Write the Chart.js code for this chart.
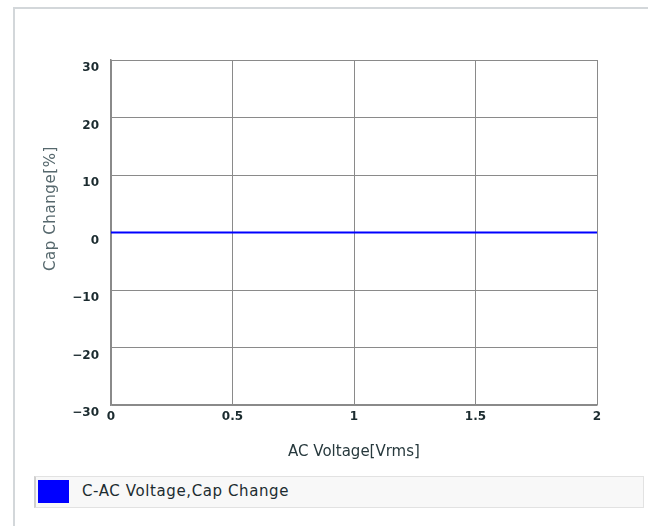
<!DOCTYPE html>
<html>
<head>
<meta charset="utf-8">
<script src="https://cdn.jsdelivr.net/npm/chart.js@4.4.0/dist/chart.umd.min.js"></script>
<style>
  html, body { margin: 0; padding: 0; background: #fff; }
  #wrap { position: relative; width: 648px; height: 526px; overflow: hidden; }
  #frame {
    position: absolute; left: 13px; top: 7px; right: -10px; bottom: -10px;
    border-top: 2px solid #d3d7da; border-left: 2px solid #d3d7da;
  }
  #grafico { position: absolute; left: 0; top: 0; }
  #legenda {
    position: absolute; left: 34px; top: 476px; width: 607px; height: 30px;
    background: #f8f8f8; border: 1px solid #e2e2e2; border-left: 2px solid #cfcfcf;
    font-family: "DejaVu Sans", sans-serif; font-size: 15px; letter-spacing: 0.6px; color: #1c2c30;
  }
  #legenda .cor { position: absolute; left: 2px; top: 3px; width: 31px; height: 23px; }
  #legenda .txt { position: absolute; left: 46px; top: 5px; }
</style>
</head>
<body>
<div id="wrap">
  <div id="frame"></div>
  <canvas id="grafico" width="648" height="526"></canvas>
  <div id="legenda"></div>
</div>
<script>
const tensao = [0, 0.5, 1, 1.5, 2];
const variacaoCap = [0, 0, 0, 0, 0];
const ticksX = [0, 0.5, 1, 1.5, 2];
const ticksY = [-30, -20, -10, 0, 10, 20, 30];
const nomeSerie = "C-AC Voltage,Cap Change";
const tituloX = "AC Voltage[Vrms]";
const tituloY = "Cap Change[%]";
const corSerie = "#0000ff";

// titulo do eixo y desenhado a mao, fica um pouco acima do centro no original
const tituloEixoY = {
  id: "tituloEixoY",
  afterDraw(chart) {
    const ctx = chart.ctx;
    const area = chart.chartArea;
    ctx.save();
    ctx.translate(51, area.top + (area.bottom - area.top) / 2 - 24);
    ctx.rotate(-Math.PI / 2);
    ctx.font = '15px "DejaVu Sans", sans-serif';
    ctx.letterSpacing = "0.6px";
    ctx.fillStyle = "#56686d";
    ctx.textAlign = "center";
    ctx.textBaseline = "middle";
    ctx.fillText(tituloY, 0, 0);
    ctx.restore();
  },
};

let ctx = document.getElementById("grafico").getContext("2d");

let grafico = new Chart(ctx, {
  type: "line",
  data: {
    datasets: [
      {
        label: nomeSerie,
        data: tensao.map((v, i) => ({ x: v, y: variacaoCap[i] })),
        borderColor: corSerie,
        backgroundColor: corSerie,
        borderWidth: 2,
        pointRadius: 0,
        tension: 0,
      },
    ],
  },
  options: {
    responsive: false,
    animation: false,
    layout: { padding: { top: 60, right: 51, bottom: 0, left: 0 } },
    plugins: { legend: { display: false }, tooltip: { enabled: false } },
    scales: {
      x: {
        type: "linear",
        min: 0,
        max: 2,
        afterBuildTicks: (s) => { s.ticks = ticksX.map((v) => ({ value: v })); },
        afterFit: (s) => { s.height = 121; },
        ticks: {
          padding: 5,
          color: "#1b2b2f",
          font: { family: "DejaVu Sans", size: 12, weight: "bold" },
          callback: (v) => String(v),
          maxRotation: 0,
        },
        grid: { color: "#8a8a8a", lineWidth: 1, drawTicks: false },
        border: { color: "#8a8a8a", width: 1.5 },
        title: {
          display: true,
          text: tituloX,
          color: "#27393d",
          font: { family: "DejaVu Sans", size: 15 },
          padding: { top: 0, bottom: 65 },
        },
      },
      y: {
        min: -30,
        max: 30,
        afterBuildTicks: (s) => { s.ticks = ticksY.map((v) => ({ value: v })); },
        afterFit: (s) => { s.width = 111; },
        ticks: {
          padding: 12,
          labelOffset: 8,
          color: "#1b2b2f",
          font: { family: "DejaVu Sans", size: 12, weight: "bold" },
          callback: (v) => String(v).replace("-", "\u2212"),
        },
        grid: { color: "#8a8a8a", lineWidth: 1, drawTicks: false },
        border: { color: "#8a8a8a", width: 1.5 },
      },
    },
  },
  plugins: [tituloEixoY],
});

// legenda em html, com a cor e o nome do dataset
let leg = document.getElementById("legenda");
grafico.data.datasets.forEach((ds) => {
  leg.innerHTML += `<div class="cor" style="background:${ds.borderColor}"></div><div class="txt">${ds.label}</div>`;
});
</script>
</body>
</html>
